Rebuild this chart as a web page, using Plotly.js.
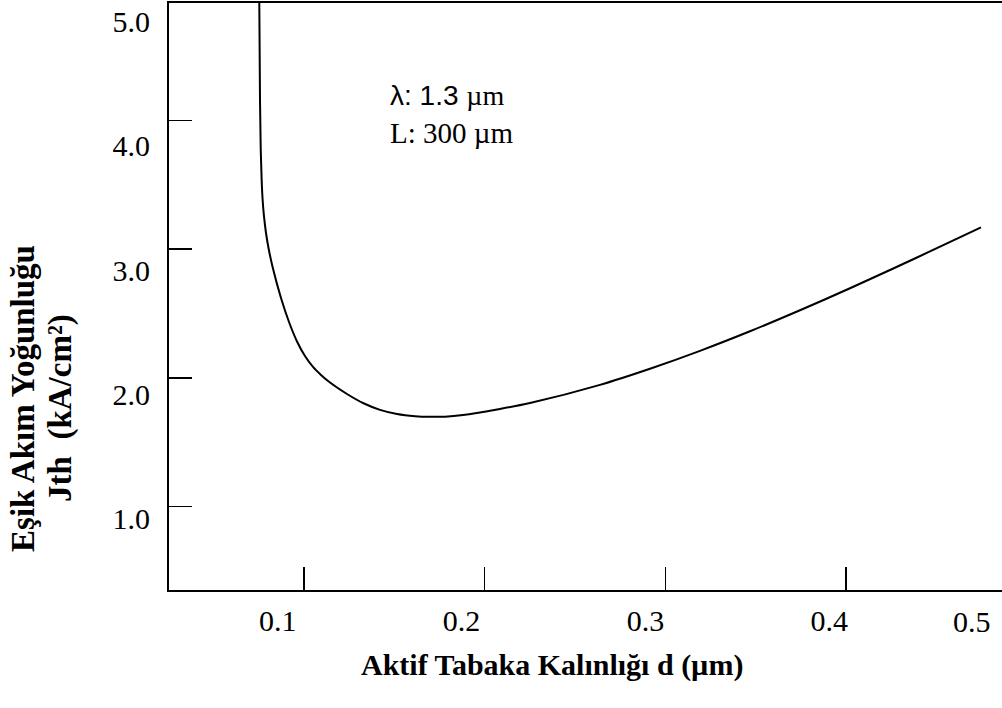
<!DOCTYPE html>
<html>
<head>
<meta charset="utf-8">
<script src="https://cdn.plot.ly/plotly-3.0.1.min.js"></script>
<style>
html,body{margin:0;padding:0;background:#fff;}
#chart{width:1002px;height:708px;}
</style>
</head>
<body>
<div id="chart"></div>
<script>
// Active layer thickness d (µm) and threshold current density Jth (kA/cm²)
const thickness = [0.07521, 0.07565, 0.07606, 0.07656, 0.07711, 0.07778, 0.07897, 0.08057, 0.08262, 0.08727,
                   0.09170, 0.09613, 0.10055, 0.10498, 0.10941, 0.11439, 0.12380, 0.13266, 0.14207, 0.15148,
                   0.16144, 0.16974, 0.17804, 0.18801, 0.20682, 0.22509, 0.26383, 0.29151, 0.31918, 0.34686,
                   0.37453, 0.40221, 0.43929, 0.47472];
const jth       = [5.000, 4.158, 3.769, 3.537, 3.381, 3.265, 3.125, 2.993, 2.861, 2.620,
                   2.434, 2.283, 2.170, 2.085, 2.023, 1.964, 1.875, 1.805, 1.752, 1.720,
                   1.703, 1.698, 1.699, 1.712, 1.755, 1.805, 1.946, 2.071, 2.210, 2.362,
                   2.525, 2.696, 2.935, 3.168];

const xTickVals  = [0.1, 0.2, 0.3, 0.4];
const xLabelVals = [0.1, 0.2, 0.3, 0.4];
const xLabelText = ['0.1', '0.2', '0.3', '0.4'];
const xLastLabel = '0.5';
const yTickVals  = [1, 2, 3, 4];
const yLabelVals = [1, 2, 3, 4, 5];
const yLabelText = ['1.0', '2.0', '3.0', '4.0', '5.0'];

const xTitle = 'Aktif Tabaka Kalınlığı d (µm)';
const yTitleLine1 = 'Eşik Akım Yoğunluğu';
const yTitleLine2 = 'Jth  (kA/cm²)';
const noteLine1 = 'λ: 1.3 <span style="font-family:\'Liberation Serif\'">µm</span>';
const noteLine2 = 'L: 300 µm';

const serif = 'Liberation Serif, Times New Roman, serif';
const sans = 'Liberation Sans, Arial, sans-serif';
const tickFont = {family: serif, size: 30, color: '#000'};

const traces = [
  {
    x: thickness, y: jth, type: 'scatter', mode: 'lines',
    line: {color: '#000', width: 2, shape: 'spline', smoothing: 1},
    hoverinfo: 'skip'
  },
  {
    // carrier for the tick-label axes (draws nothing)
    x: xLabelVals, y: yLabelVals.slice(0, xLabelVals.length), xaxis: 'x2', yaxis: 'y2',
    type: 'scatter', mode: 'none', hoverinfo: 'skip', showlegend: false
  }
];

const layout = {
  width: 1002, height: 708,
  margin: {l: 169, r: 0, t: 3, b: 118, pad: 0},
  paper_bgcolor: '#fff', plot_bgcolor: '#fff',
  showlegend: false,
  xaxis: {
    range: [0.02528, 0.48634], tickvals: xTickVals, showticklabels: false,
    ticks: 'inside', ticklen: 23, tickwidth: 1.5, tickcolor: '#000',
    showline: true, linewidth: 2, linecolor: '#000', mirror: true,
    showgrid: false, zeroline: false
  },
  yaxis: {
    range: [0.3533, 4.9107], tickvals: yTickVals, showticklabels: false,
    ticks: 'inside', ticklen: 23, tickwidth: 1.5, tickcolor: '#000',
    showline: true, linewidth: 2, linecolor: '#000',
    showgrid: false, zeroline: false
  },
  xaxis2: {
    visible: true, overlaying: 'x', anchor: 'y', side: 'bottom',
    range: [0.0408, 0.4940], tickvals: xLabelVals, ticktext: xLabelText,
    ticks: '', showline: false, showgrid: false, zeroline: false,
    showticklabels: true, ticklabelstandoff: 10,
    tickfont: tickFont
  },
  yaxis2: {
    visible: true, overlaying: 'y', anchor: 'x', side: 'left',
    range: [0.4214, 5.1515], tickvals: yLabelVals, ticktext: yLabelText,
    ticks: '', showline: false, showgrid: false, zeroline: false,
    showticklabels: true, ticklabelstandoff: 18,
    tickfont: tickFont
  },
  annotations: [
    {text: xLastLabel, xref: 'paper', yref: 'paper', x: 0.964, y: -0.0545,
     xanchor: 'center', yanchor: 'middle', showarrow: false, font: tickFont},
    {text: xTitle, xref: 'paper', yref: 'paper', x: 0.4598, y: -0.1278,
     xanchor: 'center', yanchor: 'middle', showarrow: false,
     font: {family: serif, size: 30, color: '#000', weight: 'bold'}},
    {text: yTitleLine1, xref: 'paper', yref: 'paper', x: -0.1753, y: 0.3271,
     xanchor: 'center', yanchor: 'middle', showarrow: false, textangle: -90,
     font: {family: serif, size: 33, color: '#000', weight: 'bold'}},
    {text: yTitleLine2, xref: 'paper', yref: 'paper', x: -0.1297, y: 0.3101,
     xanchor: 'center', yanchor: 'middle', showarrow: false, textangle: -90,
     font: {family: serif, size: 33, color: '#000', weight: 'bold'}},
    {text: noteLine1, xref: 'x', yref: 'y', x: 0.1465, y: 4.189,
     xanchor: 'left', yanchor: 'middle', showarrow: false,
     font: {family: sans, size: 28, color: '#000'}},
    {text: noteLine2, xref: 'x', yref: 'y', x: 0.1465, y: 3.901,
     xanchor: 'left', yanchor: 'middle', showarrow: false,
     font: {family: serif, size: 29, color: '#000'}}
  ]
};

Plotly.newPlot('chart', traces, layout, {displayModeBar: false, staticPlot: true});
</script>
</body>
</html>
